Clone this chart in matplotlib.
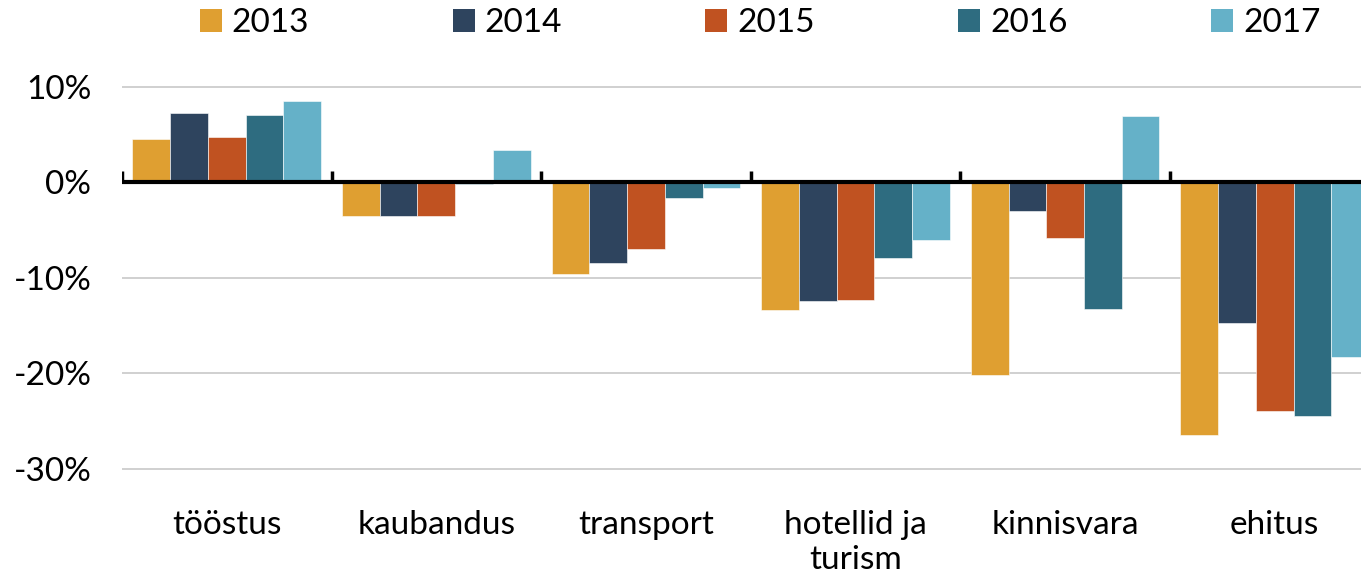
import matplotlib.pyplot as plt
import numpy as np
from matplotlib.patches import Patch

plt.rcParams['font.family'] = ['Lato', 'DejaVu Sans']

categories = ["tööstus", "kaubandus", "transport", "hotellid ja\nturism", "kinnisvara", "ehitus"]
years = ["2013", "2014", "2015", "2016", "2017"]
colors = ["#DF9F31", "#2E445E", "#C05221", "#2E6C80", "#65B1C8"]

# percent change by sector, one list per year
v2013 = [4.6, -3.5, -9.6, -13.4, -20.2, -26.4]
v2014 = [7.3, -3.5, -8.4, -12.4, -3.0, -14.7]
v2015 = [4.8, -3.5, -7.0, -12.3, -5.8, -23.9]
v2016 = [7.1, -0.2, -1.6, -7.9, -13.2, -24.4]
v2017 = [8.5, 3.4, -0.6, -6.0, 7.0, -18.3]
values = [v2013, v2014, v2015, v2016, v2017]

fig = plt.figure(figsize=(13.61, 5.77), dpi=100)
ax = fig.add_axes([0.0896, 0.1789, 0.924, 0.6786])

x = np.arange(len(categories))
w = 0.18
for i, (vals, c) in enumerate(zip(values, colors)):
    ax.bar(x + (i - 2) * w, vals, width=w, color=c, edgecolor="white", linewidth=0.4, zorder=3)

ax.set_xlim(-0.5, len(categories) - 0.5)
ax.set_ylim(-30.5, 10.5)
ax.set_yticks([10, 0, -10, -20, -30])
ax.set_yticklabels(["10%", "0%", "-10%", "-20%", "-30%"])
ax.yaxis.grid(True, color="#C8C8C8", linewidth=1.2, zorder=0)
ax.set_axisbelow(True)
for s in ax.spines.values():
    s.set_visible(False)
ax.tick_params(axis="y", length=0, pad=22, labelsize=24)
ax.set_xticks(x)
ax.set_xticklabels(categories, fontsize=24, linespacing=1.2, va="top")
ax.tick_params(axis="x", length=0, pad=26)

# zero line with category separator ticks
ax.axhline(0, color="black", linewidth=3, zorder=4)
ax.vlines(np.arange(len(categories)) - 0.5, 0, 1.2, color="black", linewidth=2.5, zorder=4)

handles = [Patch(facecolor=c, edgecolor="none") for c in colors]
fig.legend(handles, years, loc="center", bbox_to_anchor=(0.5585, 0.96), ncol=5,
           frameon=False, fontsize=24, handlelength=0.66, handleheight=0.66,
           handletextpad=0.3, columnspacing=4.3)

fig.savefig("out.png", dpi=100)
